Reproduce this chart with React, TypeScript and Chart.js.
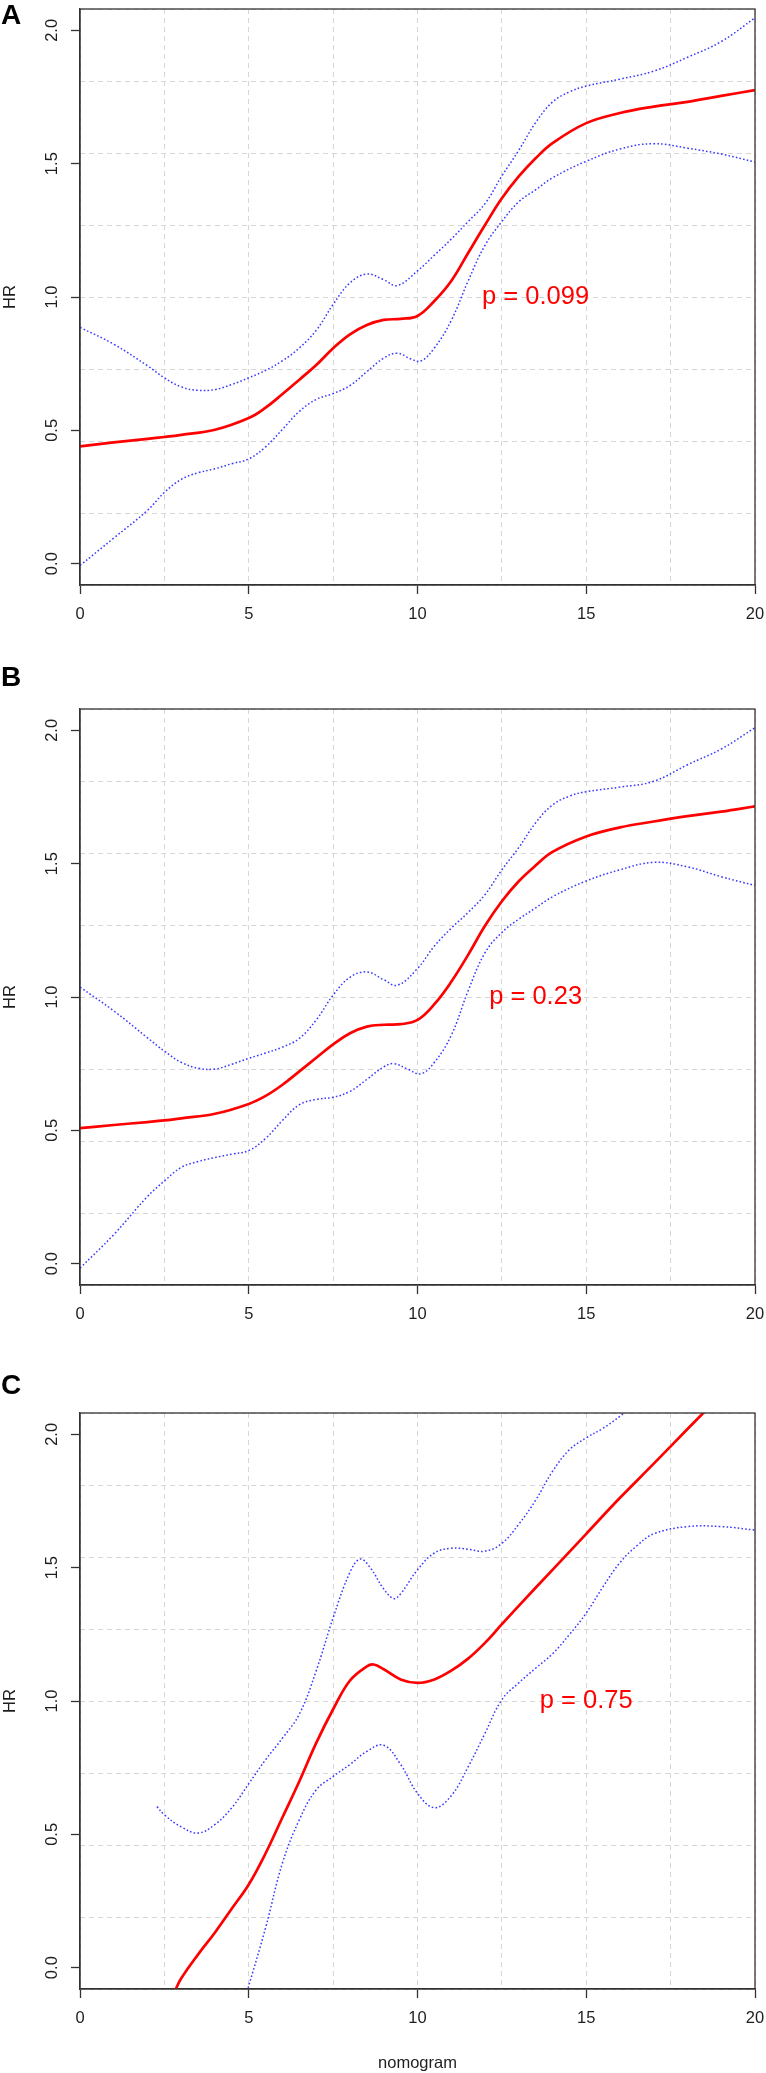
import React, { useEffect, useRef } from 'react';
import { Chart, registerables } from 'chart.js';

Chart.register(...registerables);
Chart.defaults.font.family = 'Arial, "Liberation Sans", sans-serif';

// ---- axes / ticks ----
const X_MIN = 0;
const X_MAX = 20;
const Y_MIN = -0.08;
const Y_MAX = 2.08;
const xTickValues = [0, 5, 10, 15, 20];
const xGridValues = [0, 2.5, 5, 7.5, 10, 12.5, 15, 17.5, 20];
const yTickValues = [0, 0.5, 1, 1.5, 2];
const yGridValues = [-0.08, 0.19, 0.46, 0.73, 1.0, 1.27, 1.54, 1.81, 2.08];

const panelLabels = ['A', 'B', 'C'];
const pLabels = ['p = 0.099', 'p = 0.23', 'p = 0.75'];
const pPositions: [number, number][] = [[13.5, 1.0], [13.5, 1.0], [15, 1.0]];
const yTitle = 'HR';
const xTitle = 'nomogram';

// ---- Panel A ----
const aFit: [number, number][] = [
  [0, 0.44], [1, 0.455], [2, 0.468], [2.5, 0.475], [3, 0.483], [4, 0.502], [5, 0.546], [5.5, 0.585],
  [6, 0.636], [6.5, 0.69], [7, 0.745], [7.5, 0.808], [8, 0.86], [8.5, 0.895], [9, 0.914], [9.5, 0.918],
  [10, 0.929], [10.5, 0.985], [11, 1.06], [11.5, 1.165], [12, 1.27], [12.5, 1.37], [13, 1.452],
  [13.5, 1.52], [14, 1.577], [15, 1.652], [16, 1.69], [17, 1.714], [18, 1.732], [19, 1.754], [20, 1.776],
];
const aUpper: [number, number][] = [
  [0, 0.886], [1, 0.823], [2, 0.742], [2.5, 0.697], [3, 0.663], [3.5, 0.65], [4, 0.653], [4.5, 0.672],
  [5, 0.697], [5.5, 0.725], [6, 0.761], [6.5, 0.809], [7, 0.875], [7.5, 0.972], [8, 1.053], [8.5, 1.086],
  [9, 1.065], [9.4, 1.043], [10, 1.098], [10.5, 1.157], [11, 1.217], [11.5, 1.283], [12, 1.35],
  [12.5, 1.454], [13, 1.55], [13.5, 1.654], [14, 1.731], [14.5, 1.769], [15, 1.791], [16, 1.817],
  [17, 1.847], [18, 1.899], [19, 1.958], [20, 2.047],
];
const aLower: [number, number][] = [
  [0, -0.007], [1, 0.096], [2, 0.2], [2.5, 0.267], [3, 0.316], [3.5, 0.341], [4, 0.356], [4.5, 0.375],
  [5, 0.393], [5.5, 0.438], [6, 0.504], [6.5, 0.571], [7, 0.616], [7.5, 0.638], [8, 0.668], [8.5, 0.72],
  [9, 0.771], [9.4, 0.789], [9.8, 0.768], [10.1, 0.76], [10.5, 0.809], [11, 0.912], [11.5, 1.06],
  [12, 1.194], [12.5, 1.283], [13, 1.357], [13.5, 1.402], [14, 1.447], [15, 1.509], [16, 1.555],
  [17, 1.575], [18, 1.558], [19, 1.536], [20, 1.506],
];

// ---- Panel B ----
const bFit: [number, number][] = [
  [0, 0.508], [1, 0.52], [2, 0.531], [2.5, 0.537], [3, 0.545], [4, 0.562], [5, 0.599], [5.5, 0.629],
  [6, 0.671], [6.5, 0.721], [7, 0.772], [7.5, 0.822], [8, 0.864], [8.5, 0.889], [9, 0.896], [9.5, 0.898],
  [10, 0.914], [10.5, 0.973], [11, 1.057], [11.5, 1.158], [12, 1.267], [12.5, 1.359], [13, 1.434],
  [13.5, 1.493], [14, 1.544], [15, 1.602], [16, 1.636], [17, 1.658], [18, 1.678], [19, 1.695], [20, 1.715],
];
const bUpper: [number, number][] = [
  [0, 1.037], [1, 0.948], [2, 0.847], [2.5, 0.797], [3, 0.755], [3.5, 0.733], [4, 0.73], [4.5, 0.748],
  [5, 0.77], [5.5, 0.79], [6, 0.812], [6.5, 0.845], [7, 0.914], [7.5, 1.007], [8, 1.074], [8.5, 1.094],
  [9, 1.065], [9.4, 1.044], [10, 1.107], [10.5, 1.191], [11, 1.258], [11.5, 1.317], [12, 1.384],
  [12.5, 1.477], [13, 1.56], [13.5, 1.653], [14, 1.72], [14.5, 1.753], [15, 1.77], [16, 1.787],
  [17, 1.809], [18, 1.871], [19, 1.93], [20, 2.01],
];
const bLower: [number, number][] = [
  [0, -0.017], [1, 0.109], [2, 0.252], [2.5, 0.31], [3, 0.361], [3.5, 0.383], [4, 0.398], [4.5, 0.411],
  [5, 0.424], [5.5, 0.47], [6, 0.537], [6.5, 0.596], [7, 0.616], [7.5, 0.624], [8, 0.646], [8.5, 0.691],
  [9, 0.738], [9.3, 0.75], [9.7, 0.73], [10.1, 0.712], [10.5, 0.755], [11, 0.856], [11.5, 1.023],
  [12, 1.166], [12.5, 1.242], [13, 1.292], [13.5, 1.334], [14, 1.376], [15, 1.435], [16, 1.477],
  [17, 1.505], [18, 1.488], [19, 1.451], [20, 1.418],
];

// ---- Panel C ----
const cFit: [number, number][] = [
  [2.8, -0.09], [3, -0.04], [3.5, 0.05], [4, 0.132], [4.5, 0.222], [5, 0.312], [5.5, 0.429], [6, 0.564],
  [6.5, 0.699], [7, 0.843], [7.5, 0.969], [8, 1.077], [8.5, 1.13], [8.7, 1.137], [9, 1.119], [9.5, 1.081],
  [10, 1.068], [10.5, 1.081], [11, 1.114], [11.5, 1.159], [12, 1.218], [12.5, 1.288], [13, 1.357],
  [14, 1.492], [15, 1.627], [16, 1.762], [17, 1.89], [18, 2.02], [18.7, 2.11],
];
const cUpper: [number, number][] = [
  [2.28, 0.604], [2.5, 0.573], [3, 0.528], [3.5, 0.505], [4, 0.537], [4.5, 0.6], [5, 0.69], [5.5, 0.78],
  [6, 0.861], [6.5, 0.951], [7, 1.114], [7.5, 1.312], [8, 1.483], [8.3, 1.532], [8.6, 1.5], [9, 1.42],
  [9.3, 1.384], [9.5, 1.402], [10, 1.492], [10.5, 1.555], [11, 1.573], [11.5, 1.569], [12, 1.562],
  [12.5, 1.591], [13, 1.663], [13.5, 1.753], [14, 1.861], [14.5, 1.942], [15, 1.987], [15.5, 2.023],
  [16, 2.068], [16.5, 2.12],
];
const cLower: [number, number][] = [
  [4.95, -0.09], [5.5, 0.15], [6, 0.393], [6.5, 0.555], [7, 0.667], [7.5, 0.717], [8, 0.762], [8.5, 0.811],
  [9, 0.834], [9.5, 0.762], [10, 0.654], [10.5, 0.6], [11, 0.645], [11.5, 0.753], [12, 0.879],
  [12.5, 1.005], [13, 1.068], [13.5, 1.123], [14, 1.177], [14.5, 1.249], [15, 1.33], [15.5, 1.429],
  [16, 1.519], [16.5, 1.582], [17, 1.627], [18, 1.654], [19, 1.654], [20, 1.641],
];

const AXIS = '#333333';
const GRID = '#d6d6d6';
const TEXT = '#1e1e1e';
const FONT_SIZE = 16.5;
const PLOT_BOTTOM = 585;

const framePlugin = {
  id: 'frame',
  afterDatasetsDraw(chart: any, _args: any, opts: any) {
    const { ctx, chartArea: a, scales } = chart;
    ctx.save();
    ctx.strokeStyle = AXIS;
    ctx.lineWidth = 1.3;
    ctx.strokeRect(a.left, a.top, a.right - a.left, a.bottom - a.top);
    ctx.fillStyle = '#ff0000';
    ctx.font = '25.5px Arial, "Liberation Sans", sans-serif';
    ctx.textAlign = 'center';
    ctx.textBaseline = 'middle';
    ctx.fillText(opts.text, scales.x.getPixelForValue(opts.x), scales.y.getPixelForValue(opts.y));
    ctx.restore();
  },
};

const toPts = (arr: [number, number][]) => arr.map(([x, y]) => ({ x, y }));

function buildChart(
  canvas: HTMLCanvasElement,
  height: number,
  fit: [number, number][],
  upper: [number, number][],
  lower: [number, number][],
  pText: string,
  pPos: [number, number],
  showXTitle: boolean
) {
  const blue = {
    borderColor: 'rgba(35,35,255,0.9)',
    borderWidth: 1.5,
    borderDash: [1.6, 2.2],
    pointRadius: 0,
    fill: false,
    tension: 0.4,
    clip: 0,
  };
  return new Chart(canvas, {
    type: 'line',
    data: {
      datasets: [
        {
          label: 'upper',
          data: toPts(upper),
          ...blue,
        },
        {
          label: 'lower',
          data: toPts(lower),
          ...blue,
        },
        {
          label: 'fit',
          data: toPts(fit),
          borderColor: '#ff0000',
          borderWidth: 2.7,
          pointRadius: 0,
          fill: false,
          tension: 0.4,
          clip: 0,
        },
      ],
    },
    options: {
      responsive: false,
      animation: false,
      events: [],
      layout: { padding: { top: 9, right: 11, left: 0, bottom: 0 } },
      plugins: {
        legend: { display: false },
        tooltip: { enabled: false },
        // @ts-ignore
        frame: { text: pText, x: pPos[0], y: pPos[1] },
      },
      scales: {
        x: {
          type: 'linear',
          position: 'bottom',
          min: X_MIN,
          max: X_MAX,
          afterBuildTicks: (s: any) => {
            s.ticks = xGridValues.map((v) => ({ value: v }));
          },
          afterFit: (s: any) => {
            s.height = height - PLOT_BOTTOM;
            s.paddingLeft = 0;
            s.paddingRight = 0;
          },
          ticks: {
            autoSkip: false,
            minRotation: 0,
            maxRotation: 0,
            padding: 11,
            color: TEXT,
            font: { size: FONT_SIZE },
            callback: (v: any) => (xTickValues.includes(Number(v)) ? String(v) : ''),
          },
          grid: {
            color: GRID,
            lineWidth: 1,
            drawTicks: true,
            tickLength: 9,
            tickWidth: 1.3,
            tickColor: (c: any) =>
              c.tick && xTickValues.includes(c.tick.value) ? AXIS : 'rgba(0,0,0,0)',
          },
          border: { display: true, color: AXIS, width: 1.3, dash: [5, 4] },
          title: {
            display: showXTitle,
            text: xTitle,
            color: TEXT,
            font: { size: FONT_SIZE },
            padding: 0,
          },
        },
        y: {
          type: 'linear',
          position: 'left',
          min: Y_MIN,
          max: Y_MAX,
          afterBuildTicks: (s: any) => {
            s.ticks = yTickValues.map((v) => ({ value: v }));
          },
          afterFit: (s: any) => {
            s.width = 80;
            s.paddingTop = 0;
            s.paddingBottom = 0;
          },
          ticks: {
            color: TEXT,
            font: { size: FONT_SIZE },
            minRotation: 90,
            maxRotation: 90,
            crossAlign: 'center',
            padding: 7,
            callback: (v: any) => Number(v).toFixed(1),
          },
          grid: {
            drawOnChartArea: false,
            drawTicks: true,
            tickLength: 9,
            tickWidth: 1.3,
            tickColor: AXIS,
          },
          border: { display: true, color: AXIS, width: 1.3 },
          title: {
            display: true,
            text: yTitle,
            color: TEXT,
            font: { size: FONT_SIZE },
            padding: { top: 1, bottom: 0 },
          },
        },
        yg: {
          type: 'linear',
          position: 'right',
          min: Y_MIN,
          max: Y_MAX,
          afterBuildTicks: (s: any) => {
            s.ticks = yGridValues.map((v) => ({ value: v }));
          },
          afterFit: (s: any) => {
            s.width = 0;
            s.paddingTop = 0;
            s.paddingBottom = 0;
          },
          ticks: { display: false },
          grid: { color: GRID, lineWidth: 1, drawTicks: false },
          border: { display: false, dash: [5, 4] },
        },
      },
    } as any,
    plugins: [framePlugin],
  });
}

const panels = [
  { top: 0, height: 700, fit: aFit, upper: aUpper, lower: aLower, labelTop: 1.3, xt: false },
  { top: 700, height: 700, fit: bFit, upper: bUpper, lower: bLower, labelTop: 663, xt: false },
  { top: 1404, height: 669, fit: cFit, upper: cUpper, lower: cLower, labelTop: 1371.3, xt: true },
];

export default function App() {
  const refs = [
    useRef<HTMLCanvasElement>(null),
    useRef<HTMLCanvasElement>(null),
    useRef<HTMLCanvasElement>(null),
  ];
  useEffect(() => {
    const charts = panels.map((p, i) =>
      buildChart(
        refs[i].current as HTMLCanvasElement,
        p.height,
        p.fit,
        p.upper,
        p.lower,
        pLabels[i],
        pPositions[i],
        p.xt
      )
    );
    return () => charts.forEach((c) => c.destroy());
  }, []);

  return (
    <div
      style={{
        position: 'absolute',
        left: 0,
        top: 0,
        width: 766,
        height: 2073,
        background: '#ffffff',
        overflow: 'hidden',
      }}
    >
      {panels.map((p, i) => (
        <React.Fragment key={i}>
          <canvas
            ref={refs[i]}
            width={766}
            height={p.height}
            style={{ position: 'absolute', left: 0, top: p.top, width: 766, height: p.height }}
          />
          <div
            style={{
              position: 'absolute',
              left: 1,
              top: p.labelTop,
              fontFamily: 'Arial, "Liberation Sans", sans-serif',
              fontWeight: 'bold',
              fontSize: 28,
              lineHeight: '28px',
              color: '#000',
            }}
          >
            {panelLabels[i]}
          </div>
        </React.Fragment>
      ))}
    </div>
  );
}
